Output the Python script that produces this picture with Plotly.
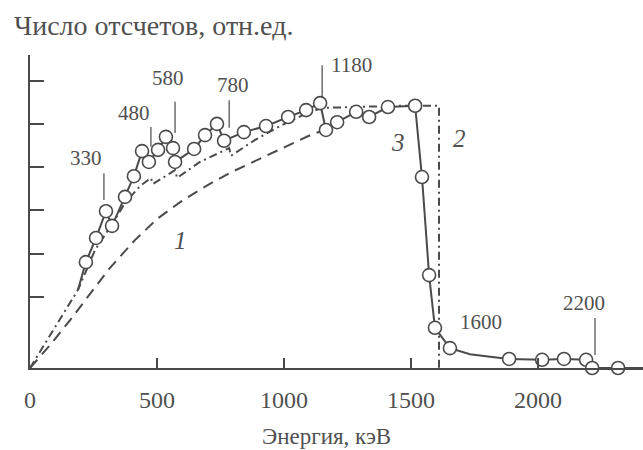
import plotly.graph_objects as go

# ---------------- data ----------------
# curve 3: experimental points (circles)
exp_E = [220, 260, 299, 323, 374, 409, 441, 468, 504, 535, 563, 571, 646, 689, 736, 764,
         842, 929, 1016, 1087, 1142, 1165, 1209, 1284, 1335, 1409, 1516, 1543, 1571, 1594,
         1653, 1886, 2016, 2102, 2189, 2213, 2315]
exp_y = [2.45, 3.01, 3.63, 3.29, 3.96, 4.44, 5.02, 4.77, 5.05, 5.35, 5.09, 4.77, 5.07, 5.39, 5.65, 5.26,
         5.46, 5.60, 5.81, 5.97, 6.13, 5.51, 5.69, 5.93, 5.81, 6.04, 6.07, 4.42, 2.15, 0.93,
         0.46, 0.21, 0.19, 0.21, 0.19, 0.0, 0.0]
# curve 3: line vertices (start on curve 2, smooth tail to the right edge)
line3_start_E = [189]
line3_start_y = [1.81]
line3_tail_E = [1732, 1811]
line3_tail_y = [0.32, 0.26]
line3_end_E = [2413]
line3_end_y = [0.0]

# curve 1: dashed
c1_E = [0, 79, 158, 236, 315, 413, 500, 591, 701, 795, 917, 1035, 1114, 1165]
c1_y = [0, 0.53, 1.11, 1.71, 2.32, 2.96, 3.45, 3.84, 4.24, 4.54, 4.88, 5.21, 5.42, 5.51]

# curve 2: dash-dot
c2_E = [0, 189, 256, 323, 374, 433, 476, 484, 571, 579, 669, 784, 791, 886, 984, 1083,
        1150, 1299, 1457, 1610, 1610]
c2_y = [0, 1.81, 2.73, 3.33, 3.82, 4.21, 4.40, 4.26, 4.58, 4.40, 4.77, 5.09, 4.91, 5.28, 5.60, 5.88,
        6.02, 6.04, 6.07, 6.07, 0]

# peak labels with leader lines
peak_text = ["330", "480", "580", "780", "1180", "2200"]
peak_line_E = [291, 476, 571, 784, 1150, 2224]
peak_line_y0 = [3.89, 5.12, 5.44, 5.56, 6.25, 0.30]
peak_line_y1 = [4.51, 5.58, 6.16, 6.20, 7.01, 1.16]
peak_text_E = [221, 409, 543, 799, 1264, 2181]
peak_text_y = [4.86, 5.90, 6.71, 6.55, 7.01, 1.51]
# free label
edge_text = ["1600"]
edge_text_E = [1776]
edge_text_y = [1.07]

# curve numbers
curve_names = ["1", "2", "3"]
curve_name_E = [591, 1689, 1449]
curve_name_y = [2.96, 5.32, 5.23]

x_ticks = [0, 500, 1000, 1500, 2000]
y_ticks = [1.65, 2.65, 3.65, 4.65, 5.65, 6.65]

x_title = "Энергия, кэВ"
y_title = "Число отсчетов, отн.ед."

# ---------------- figure ----------------
INK = "#4a4a4a"
TXT = "#505050"
FONT = "Liberation Serif"

fig = go.Figure()

fig.add_trace(go.Scatter(x=c1_E, y=c1_y, mode="lines",
                         line=dict(color=INK, width=2, dash="11px,7px"),
                         cliponaxis=False, hoverinfo="skip"))
fig.add_trace(go.Scatter(x=c2_E, y=c2_y, mode="lines",
                         line=dict(color=INK, width=2, dash="8px,4px,2px,4px"),
                         cliponaxis=False, hoverinfo="skip"))

# curve 3 line: start vertex + circles + tail vertices inserted after the 31st point
l3_E = line3_start_E + exp_E[:31] + line3_tail_E + exp_E[31:] + line3_end_E
l3_y = line3_start_y + exp_y[:31] + line3_tail_y + exp_y[31:] + line3_end_y
fig.add_trace(go.Scatter(x=l3_E, y=l3_y, mode="lines",
                         line=dict(color=INK, width=2),
                         cliponaxis=False, hoverinfo="skip"))
fig.add_trace(go.Scatter(x=exp_E, y=exp_y, mode="markers",
                         marker=dict(symbol="circle", size=13, color="white",
                                     line=dict(color=INK, width=1.6)),
                         cliponaxis=False, hoverinfo="skip"))

for xe, y0, y1 in zip(peak_line_E, peak_line_y0, peak_line_y1):
    fig.add_shape(type="line", xref="x", yref="y", x0=xe, x1=xe, y0=y0, y1=y1,
                  line=dict(color=INK, width=1.2))

for t, xe, ye in zip(peak_text + edge_text, peak_text_E + edge_text_E, peak_text_y + edge_text_y):
    fig.add_annotation(x=xe, y=ye, xref="x", yref="y", text=t, showarrow=False,
                       font=dict(family=FONT, size=21, color=TXT))

for t, xe, ye in zip(curve_names, curve_name_E, curve_name_y):
    fig.add_annotation(x=xe, y=ye, xref="x", yref="y", text="<i>" + t + "</i>", showarrow=False,
                       font=dict(family=FONT, size=25, color=TXT))

fig.add_annotation(x=12, y=25, xref="paper", yref="paper", text=y_title, showarrow=False,
                   xanchor="left", yanchor="middle",
                   font=dict(family=FONT, size=28, color=TXT))
fig.add_annotation(x=326, y=436, xref="paper", yref="paper", text=x_title, showarrow=False,
                   xanchor="center", yanchor="middle",
                   font=dict(family=FONT, size=23, color=TXT))

# convert pixel-positioned paper annotations
W, H = 643, 450
L, R, T, B = 30, 0, 55, 82
for a in fig.layout.annotations:
    if a.xref == "paper":
        a.x = (a.x - L) / (W - L - R)
        a.y = (H - B - a.y) / (H - T - B)

fig.update_layout(
    width=W, height=H,
    margin=dict(l=L, r=R, t=T, b=B),
    paper_bgcolor="white", plot_bgcolor="white",
    showlegend=False,
    xaxis=dict(range=[0, 2413], tickvals=x_ticks, ticktext=[str(v) for v in x_ticks],
               showline=True, linecolor=INK, linewidth=2, ticks="inside", ticklen=10,
               tickcolor=INK, tickwidth=1.5, showgrid=False, zeroline=False,
               tickfont=dict(family=FONT, size=24, color=TXT), ticklabelstandoff=9),
    yaxis=dict(range=[0, 7.245], tickvals=y_ticks, showticklabels=False,
               showline=True, linecolor=INK, linewidth=2, ticks="inside", ticklen=14,
               tickcolor=INK, tickwidth=1.5, showgrid=False, zeroline=False),
)

fig.write_html("out.html", config={"displayModeBar": False},
               post_script="document.body.style.margin='0px';")
